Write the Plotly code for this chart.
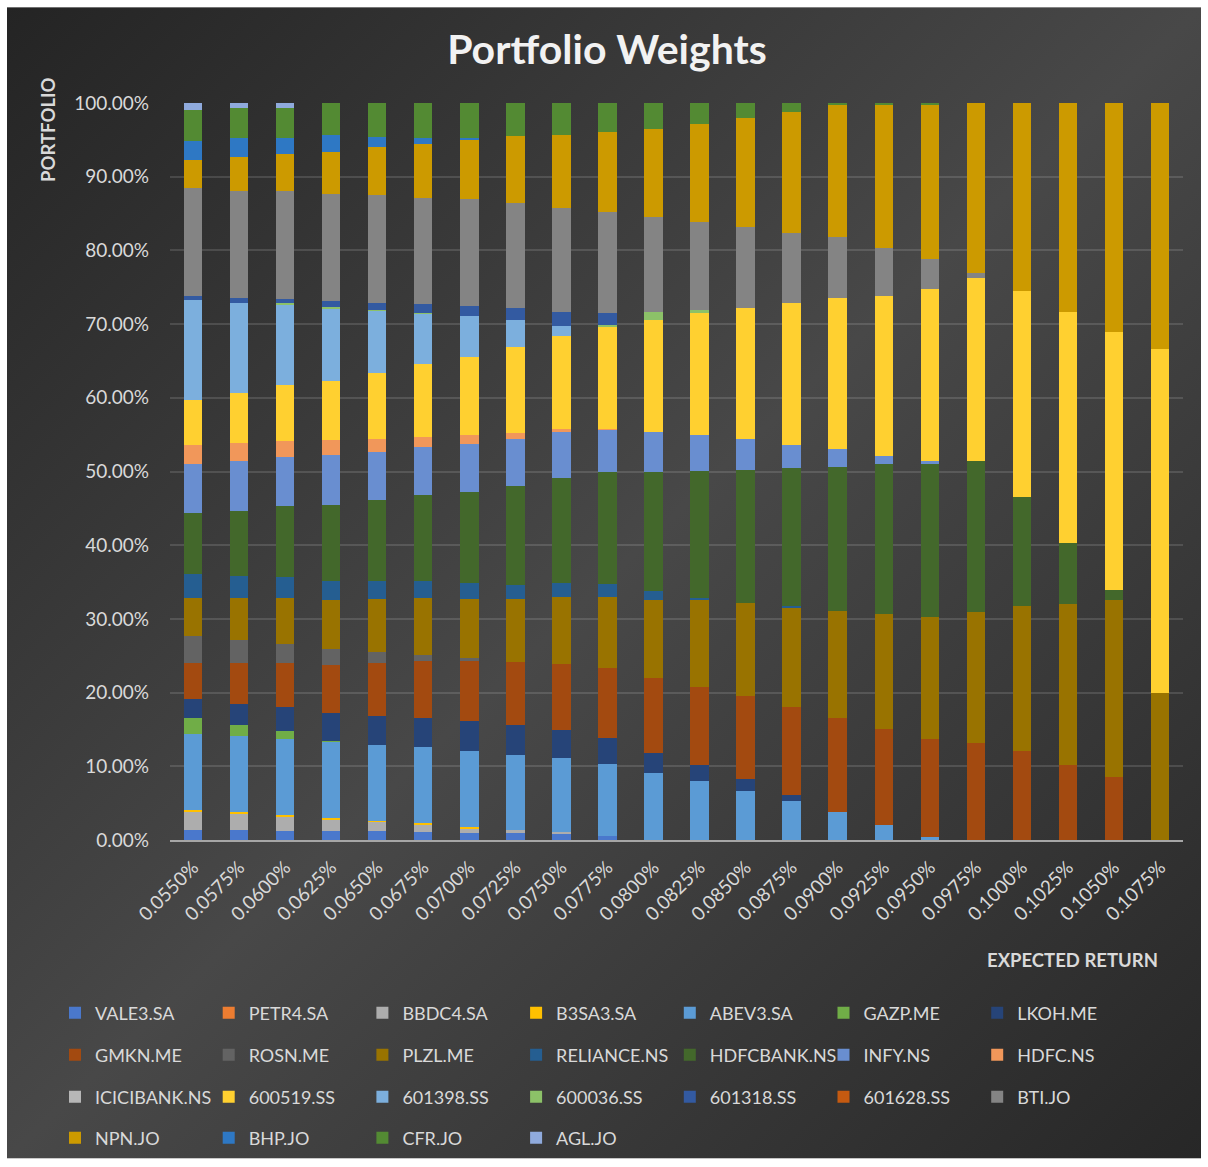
import base64
import plotly.graph_objects as go

# ---------------- data ----------------
categories = ["0.0550%", "0.0575%", "0.0600%", "0.0625%", "0.0650%", "0.0675%", "0.0700%",
              "0.0725%", "0.0750%", "0.0775%", "0.0800%", "0.0825%", "0.0850%", "0.0875%",
              "0.0900%", "0.0925%", "0.0950%", "0.0975%", "0.1000%", "0.1025%", "0.1050%", "0.1075%"]

series_names = ["VALE3.SA", "PETR4.SA", "BBDC4.SA", "B3SA3.SA", "ABEV3.SA", "GAZP.ME", "LKOH.ME",
                "GMKN.ME", "ROSN.ME", "PLZL.ME", "RELIANCE.NS", "HDFCBANK.NS", "INFY.NS", "HDFC.NS",
                "ICICIBANK.NS", "600519.SS", "601398.SS", "600036.SS", "601318.SS", "601628.SS", "BTI.JO",
                "NPN.JO", "BHP.JO", "CFR.JO", "AGL.JO"]

vale3 = [1.4, 1.4, 1.2, 1.2, 1.2, 1.1, 1.0, 1.0, 0.8, 0.6, 0, 0, 0, 0, 0, 0, 0, 0, 0, 0, 0, 0]
petr4 = [0] * 22
bbdc4 = [2.4, 2.1, 1.9, 1.5, 1.25, 1.0, 0.55, 0.3, 0.3, 0, 0, 0, 0, 0, 0, 0, 0, 0, 0, 0, 0, 0]
b3sa3 = [0.3, 0.3, 0.3, 0.3, 0.15, 0.2, 0.2, 0, 0, 0, 0, 0, 0, 0, 0, 0, 0, 0, 0, 0, 0, 0]
abev3 = [10.3, 10.3, 10.3, 10.3, 10.3, 10.3, 10.3, 10.3, 10.0, 9.7, 9.05, 8.05, 6.7, 5.3, 3.85, 2.1, 0.45, 0, 0, 0, 0, 0]
gazp = [2.2, 1.5, 1.1, 0.15, 0, 0, 0, 0, 0, 0, 0, 0, 0, 0, 0, 0, 0, 0, 0, 0, 0, 0]
lkoh = [2.5, 2.9, 3.2, 3.7, 4.0, 4.0, 4.1, 4.0, 3.8, 3.5, 2.8, 2.15, 1.55, 0.8, 0, 0, 0, 0, 0, 0, 0, 0]
gmkn = [5.0, 5.5, 6.0, 6.6, 7.15, 7.7, 8.2, 8.6, 9.0, 9.6, 10.1, 10.6, 11.25, 11.9, 12.65, 12.9, 13.25, 13.2, 12.1, 10.2, 8.55, 0]
rosn = [3.6, 3.1, 2.6, 2.1, 1.45, 0.8, 0.3, 0, 0, 0, 0, 0, 0, 0, 0, 0, 0, 0, 0, 0, 0, 0]
plzl = [5.2, 5.7, 6.2, 6.7, 7.2, 7.7, 8.0, 8.5, 9.1, 9.6, 10.65, 11.8, 12.6, 13.6, 14.6, 15.7, 16.6, 17.8, 19.6, 21.8, 23.95, 19.9]
reliance = [3.2, 3.0, 2.9, 2.6, 2.5, 2.3, 2.2, 1.9, 1.9, 1.7, 1.2, 0.2, 0, 0.15, 0, 0, 0, 0, 0, 0, 0, 0]
hdfcbank = [8.3, 8.8, 9.6, 10.3, 10.95, 11.7, 12.4, 13.45, 14.3, 15.3, 16.1, 17.3, 18.1, 18.75, 19.5, 20.3, 20.7, 20.45, 14.9, 8.3, 1.45, 0]
infy = [6.7, 6.8, 6.7, 6.7, 6.5, 6.5, 6.5, 6.35, 6.2, 5.7, 5.5, 4.8, 4.2, 3.15, 2.5, 1.1, 0.45, 0, 0, 0, 0, 0]
hdfc = [2.6, 2.5, 2.1, 2.0, 1.8, 1.45, 1.25, 0.8, 0.4, 0.1, 0, 0, 0, 0, 0, 0, 0, 0, 0, 0, 0, 0]
icicibank = [0] * 22
s600519 = [6.0, 6.7, 7.7, 8.1, 9.0, 9.9, 10.6, 11.7, 12.7, 13.8, 15.1, 16.7, 17.8, 19.25, 20.4, 21.75, 23.25, 24.8, 27.9, 31.4, 34.95, 46.7]
s601398 = [13.6, 12.3, 10.9, 9.7, 8.4, 6.8, 5.5, 3.6, 1.3, 0, 0, 0, 0, 0, 0, 0, 0, 0, 0, 0, 0, 0]
s600036 = [0, 0, 0.15, 0.2, 0.15, 0.1, 0, 0, 0, 0.3, 1.2, 0.25, 0, 0, 0, 0, 0, 0, 0, 0, 0, 0]
s601318 = [0.6, 0.6, 0.55, 0.9, 0.85, 1.2, 1.4, 1.7, 1.9, 1.6, 0, 0, 0, 0, 0, 0, 0, 0, 0, 0, 0, 0]
s601628 = [0] * 22
bti = [14.7, 14.6, 14.6, 14.5, 14.7, 14.4, 14.5, 14.3, 14.2, 13.7, 12.9, 11.95, 11.0, 9.5, 8.3, 6.45, 4.15, 0.75, 0, 0, 0, 0]
npn = [3.7, 4.6, 5.1, 5.7, 6.5, 7.4, 8.1, 9.0, 9.8, 10.8, 11.9, 13.35, 14.8, 16.4, 18.0, 19.5, 20.95, 23.0, 25.5, 28.3, 31.1, 33.4]
bhp = [2.7, 2.5, 2.1, 2.2, 1.4, 0.75, 0.15, 0, 0, 0, 0, 0, 0, 0, 0, 0, 0, 0, 0, 0, 0, 0]
cfr = [4.1, 4.1, 4.1, 4.4, 4.6, 4.75, 4.75, 4.5, 4.4, 4.0, 3.5, 2.85, 2.0, 1.2, 0.2, 0.2, 0.2, 0, 0, 0, 0, 0]
agl = [1.0, 0.7, 0.7, 0, 0, 0, 0, 0, 0, 0, 0, 0, 0, 0, 0, 0, 0, 0, 0, 0, 0, 0]

series_values = [vale3, petr4, bbdc4, b3sa3, abev3, gazp, lkoh, gmkn, rosn, plzl, reliance, hdfcbank,
                 infy, hdfc, icicibank, s600519, s601398, s600036, s601318, s601628, bti, npn, bhp, cfr, agl]

colors = ["#4A78CC", "#ED7D31", "#ADADAD", "#FFC000", "#5B9BD5", "#70AD47", "#264478",
          "#A34A10", "#636363", "#997300", "#255E91", "#43682B", "#698ED0", "#F1975A",
          "#B7B7B7", "#FFD030", "#7CAFDD", "#8CC168", "#335AA1", "#C55A11", "#848484",
          "#CC9A00", "#2E78C4", "#538A33", "#8FAADC"]

y_tick_vals = [0, 10, 20, 30, 40, 50, 60, 70, 80, 90, 100]
y_tick_text = ["0.00%", "10.00%", "20.00%", "30.00%", "40.00%", "50.00%", "60.00%",
               "70.00%", "80.00%", "90.00%", "100.00%"]

# ---------------- figure geometry ----------------
W, H = 1208, 1167
ML, MR, MT, MB = 170, 25, 103, 326
PW, PH = W - ML - MR, H - MT - MB

def px_x(p):
    return (p - ML) / PW

def px_y(p):
    return (H - MB - p) / PH

FONT = "Lato, 'Open Sans', sans-serif"
TXT = "#d9d9d9"

fig = go.Figure()
legend_ids = ["legend", "legend2", "legend3", "legend4"]
for i, (name, vals) in enumerate(zip(series_names, series_values)):
    fig.add_trace(go.Bar(
        x=categories, y=vals, name=name,
        marker=dict(color=colors[i], line=dict(width=0)),
        legend=legend_ids[i // 7],
    ))

# background gradient (dark chart area inside white frame)
svg = ('<svg xmlns="http://www.w3.org/2000/svg" width="1194" height="1153">'
       '<defs><linearGradient id="g" x1="0" y1="0" x2="1" y2="1">'
       '<stop offset="0" stop-color="#242424"/>'
       '<stop offset="0.5" stop-color="#484848"/>'
       '<stop offset="1" stop-color="#272727"/>'
       '</linearGradient></defs>'
       '<rect width="1194" height="1153" fill="url(#g)"/></svg>')
src = "data:image/svg+xml;base64," + base64.b64encode(svg.encode()).decode()

legend_rows_y = [1013, 1055, 1097, 1138]
legend_common = dict(orientation="h", xanchor="left", yanchor="middle",
                     font=dict(family=FONT, size=18, color=TXT),
                     bgcolor="rgba(0,0,0,0)", borderwidth=0,
                     entrywidth=108.7, entrywidthmode="pixels", itemwidth=30,
                     traceorder="normal")

layout_legends = {}
for k, lid in enumerate(legend_ids):
    layout_legends[lid] = dict(legend_common, x=px_x(55), y=px_y(legend_rows_y[k]))

fig.update_layout(
    width=W, height=H,
    margin=dict(l=ML, r=MR, t=MT, b=MB, pad=0),
    barmode="stack", barnorm="percent", bargap=0.6,
    paper_bgcolor="#ffffff", plot_bgcolor="rgba(0,0,0,0)",
    font=dict(family=FONT, color=TXT),
    title=dict(text="<b>Portfolio Weights</b>", x=607 / W, xref="container", xanchor="center",
               y=1 - 50 / H, yref="container", yanchor="middle",
               font=dict(family=FONT, size=41, color="#f2f2f2")),
    xaxis=dict(type="category", categoryorder="array", categoryarray=categories,
               tickangle=-45, tickfont=dict(family=FONT, size=19, color=TXT),
               showline=True, linecolor="#a6a6a6", linewidth=2,
               showgrid=False, ticks="", zeroline=False, ticklabelstandoff=7),
    yaxis=dict(range=[0, 100], tickmode="array", tickvals=y_tick_vals, ticktext=y_tick_text,
               tickfont=dict(family=FONT, size=19, color=TXT),
               showgrid=True, gridcolor="rgba(255,255,255,0.13)", gridwidth=1.5,
               showline=False, zeroline=False, ticks="", ticklabelstandoff=20),
    images=[dict(source=src, xref="paper", yref="paper",
                 x=px_x(7), y=px_y(7), sizex=1194 / PW, sizey=1153 / PH,
                 xanchor="left", yanchor="top", sizing="stretch", layer="below")],
    annotations=[
        dict(text="<b>PORTFOLIO</b>", xref="paper", yref="paper", x=px_x(48), y=px_y(130),
             textangle=-90, showarrow=False, xanchor="center", yanchor="middle",
             font=dict(family=FONT, size=18.5, color=TXT)),
        dict(text="<b>EXPECTED RETURN</b>", xref="paper", yref="paper", x=px_x(1072), y=px_y(961),
             showarrow=False, xanchor="center", yanchor="middle",
             font=dict(family=FONT, size=18.5, color=TXT)),
    ],
    showlegend=True,
    **layout_legends,
)

fig.write_html("out.html", config={"displayModeBar": False},
               post_script="document.body.style.margin='0';")
